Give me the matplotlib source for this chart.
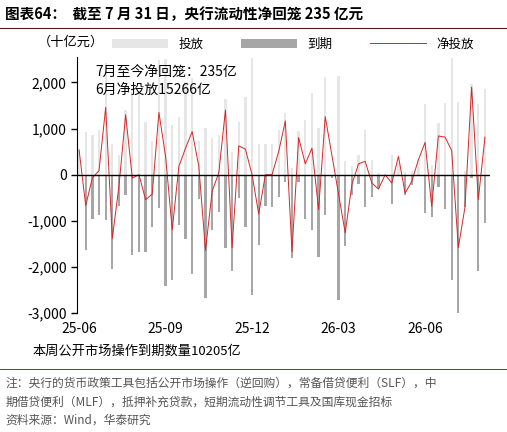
import matplotlib
matplotlib.use("Agg")
import matplotlib.pyplot as plt
import numpy as np

plt.rcParams['font.family'] = ['Noto Sans CJK SC', 'DejaVu Sans']

# weekly data, 十亿元
injection = [540, 935, 860, 970, 2430, 660, 430, 1400, 1800, 1800, 1140, 720, 2480, 2500,
             1080, 1260, 2010, 2090, 720, 1020, 790, 860, 1650, 500, 1140, 1690, 2520, 660,
             670, 660, 970, 1330, 145, 950, 1190, 1760, 1010, 2120, 0, 2140, 290, 180, 430,
             970, 310, 35, 0, 420, 250, 60, 80, 325, 1525, 215, 1130, 1560, 2520, 1580, 70,
             1960, 1530, 1850]
maturity = [0, -1620, -950, -880, -985, -2050, -670, -445, -1740, -1680, -1680, -1140, -720,
            -2400, -2290, -1080, -1400, -2140, -525, -2680, -1190, -805, -1580, -2090, -500,
            -1140, -2600, -1525, -685, -690, -475, -165, -1810, -150, -970, -1200, -1785, -865,
            -80, -2720, -1550, -445, -200, -705, -490, -290, 0, -625, 0, -430, -215, 0, -830,
            -920, -275, -735, -2270, -3060, -700, -70, -2090, -1045]
net = [540, -670, -70, 90, 1460, -1380, -240, 1300, -70, 0, -540, -420, 1350, 400, -1190, 180,
       575, 935, 180, -1640, -360, 40, 1400, -1580, 625, 555, 0, -850, 0, 0, 500, 1165, -1670,
       805, 235, 575, -755, 1260, 420, -420, -1260, -215, 235, 290, -180, -310, 0, -180, 395,
       -400, -145, 325, 700, -685, 840, 815, 525, -1580, -700, 1900, -540, 815]
tick_pos = [0, 13, 26, 39, 52]
tick_labels = ["25-06", "25-09", "25-12", "26-03", "26-06"]

x = np.arange(len(net))
fig = plt.figure(figsize=(5.07, 4.32), dpi=100)
ax = fig.add_axes([0.152, 0.275, 0.815, 0.593])

b1 = ax.bar(x, injection, width=0.35, color="#e6e6e6", label="投放")
b2 = ax.bar(x, maturity, width=0.35, color="#a6a6a6", label="到期")
l1, = ax.plot(x, net, color="#d62728", lw=0.7, label="净投放")
ax.axhline(0, color="black", lw=1)

ax.set_xlim(-0.3, 61.8)
ax.set_ylim(-3000, 2550)
ax.set_yticks(range(-3000, 2001, 1000))
ax.set_yticklabels([f"{v:,}" for v in range(-3000, 2001, 1000)], fontsize=10)
ax.set_xticks(tick_pos)
ax.set_xticklabels(tick_labels, fontsize=10)
ax.tick_params(axis="x", length=0, pad=6)
ax.tick_params(axis="y", length=4, width=1)
for s in ["top", "right", "bottom"]:
    ax.spines[s].set_visible(False)

ax.text(2.5, 2150, "7月至今净回笼：235亿", fontsize=10)
ax.text(2.5, 1750, "6月净投放15266亿", fontsize=10)
ax.legend([b1, b2, l1], ["投放", "到期", "净投放"], loc="lower left",
          bbox_to_anchor=(0.07, 1.0), ncol=3, frameon=False,
          fontsize=9, handlelength=4.5, columnspacing=3, borderaxespad=0.1)

fig.text(0.075, 0.895, "（十亿元）", fontsize=9.5)
fig.text(0.01, 0.955, "图表64：  截至 7 月 31 日，央行流动性净回笼 235 亿元", fontsize=10.5,
         fontweight="bold")
fig.add_artist(plt.Line2D([0.0, 1.0], [0.935, 0.935], color="#5a1a1a", lw=0.8))
fig.text(0.065, 0.18, "本周公开市场操作到期数量10205亿", fontsize=9.5)
fig.add_artist(plt.Line2D([0.0, 1.0], [0.145, 0.145], color="#5a1a1a", lw=0.6))
fig.text(0.01, 0.105, "注：央行的货币政策工具包括公开市场操作（逆回购），常备借贷便利（SLF），中",
         fontsize=8.5, color="#555555")
fig.text(0.01, 0.062, "期借贷便利（MLF），抵押补充贷款，短期流动性调节工具及国库现金招标",
         fontsize=8.5, color="#555555")
fig.text(0.01, 0.02, "资料来源：Wind，华泰研究", fontsize=8.5, color="#555555")

fig.savefig("out.png", dpi=100)
